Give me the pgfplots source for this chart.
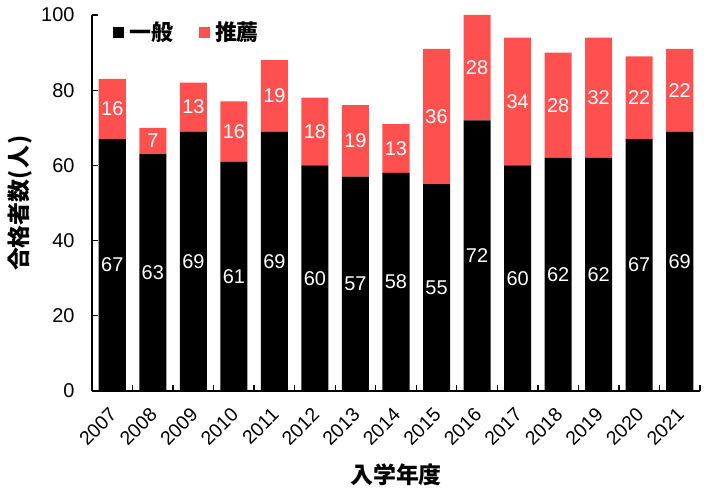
\documentclass[border=0pt]{standalone}
\usepackage{pgfplots}
\pgfplotsset{compat=1.18}
\usepackage{fontspec}
\setmainfont{Liberation Sans}
\newfontfamily\cjk{Noto Sans CJK JP}
\definecolor{suisen}{RGB}{255,80,80}
\begin{document}
\begin{tikzpicture}
\path[use as bounding box] (-92bp,-103bp) rectangle (618bp,391bp);
\begin{axis}[
  at={(0,0)}, anchor=south west,
  scale only axis, width=608bp, height=376bp,
  ybar stacked, bar width=0.667,
  xmin=-0.5, xmax=14.5, ymin=0, ymax=100,
  axis x line*=bottom, axis y line*=left,
  axis line style={line width=1.3bp, black},
  tick style={line width=1.3bp, black},
  tick align=inside,
  major tick length=6bp, minor tick length=6bp,
  xtick={0,...,14},
  xticklabels={2007,2008,2009,2010,2011,2012,2013,2014,2015,2016,2017,2018,2019,2020,2021},
  major x tick style={draw=none},
  minor xtick={-0.5,0.5,1.5,2.5,3.5,4.5,5.5,6.5,7.5,8.5,9.5,10.5,11.5,12.5,13.5,14.5},
  ytick={0,20,40,60,80,100},
  yticklabel style={font=\fontsize{20}{22}\selectfont, xshift=-14bp},
  xticklabel style={font=\fontsize{19.5}{20}\selectfont, xshift=-4bp, yshift=-14bp, rotate=45, anchor=north east, inner sep=1bp},
  /pgf/number format/assume math mode=true,
  xlabel={\cjk\bfseries 入学年度},
  ylabel={\cjk\bfseries 合格者数(\kern1.5bp 人\kern1.5bp)},
  xlabel style={at={(axis description cs:0.5,-0.2234)}, anchor=center, font=\fontsize{23}{24}\selectfont},
  ylabel style={at={(axis description cs:-0.1184,0.5)}, anchor=center, font=\fontsize{23}{24}\selectfont},
  legend style={at={(axis description cs:0,1)}, anchor=north west, xshift=21bp, yshift=-5bp,
    draw=none, fill=none, inner sep=0pt,
    font=\cjk\bfseries\fontsize{22}{23}\selectfont, legend columns=2,
    /tikz/every even column/.append style={column sep=24bp}},
  nodes near coords,
  every node near coord/.style={font=\fontsize{20}{20}\selectfont, text=white, anchor=center},
]
\addplot[fill=black, draw=none,
  legend image code/.code={\fill[black] (0bp,-5.5bp) rectangle (11bp,5.5bp); \path (0bp,0bp) -- (14bp,0bp);}]
  coordinates {(0,67) (1,63) (2,69) (3,61) (4,69) (5,60) (6,57) (7,58) (8,55) (9,72) (10,60) (11,62) (12,62) (13,67) (14,69)};
\addplot[fill=suisen, draw=none,
  legend image code/.code={\fill[suisen] (0bp,-5.5bp) rectangle (11bp,5.5bp); \path (0bp,0bp) -- (14bp,0bp);}]
  coordinates {(0,16) (1,7) (2,13) (3,16) (4,19) (5,18) (6,19) (7,13) (8,36) (9,28) (10,34) (11,28) (12,32) (13,22) (14,22)};
\legend{一般,推薦}
\end{axis}
\end{tikzpicture}
\end{document}
